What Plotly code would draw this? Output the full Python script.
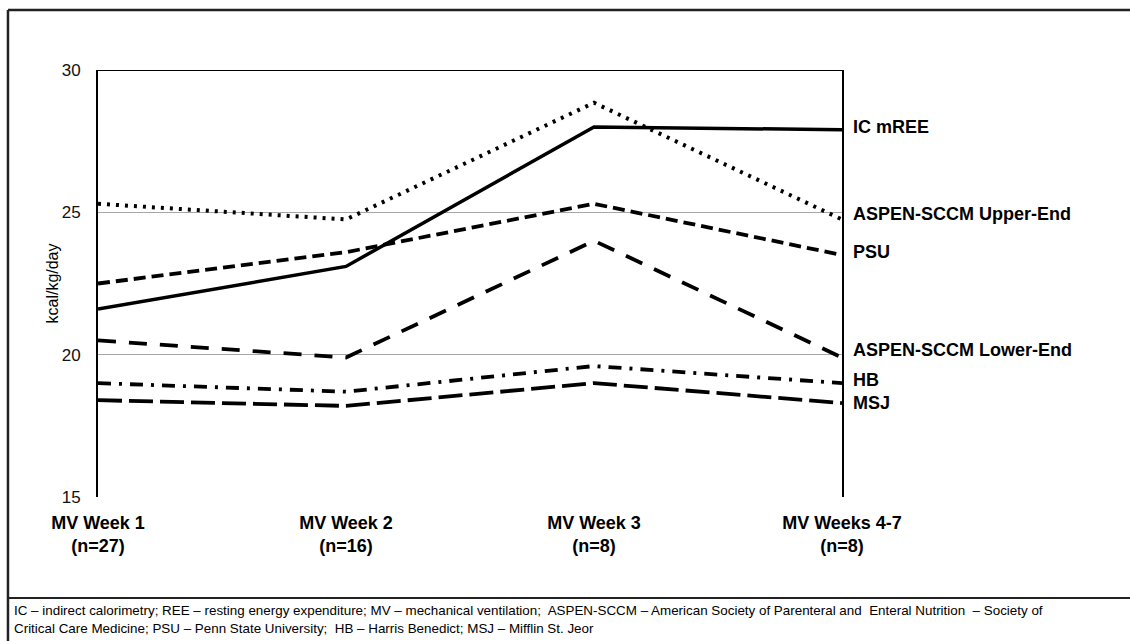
import plotly.graph_objects as go

categories = ["MV Week 1<br>(n=27)", "MV Week 2<br>(n=16)", "MV Week 3<br>(n=8)", "MV Weeks 4-7<br>(n=8)"]
series_names = ["IC mREE", "ASPEN-SCCM Upper-End", "PSU", "ASPEN-SCCM Lower-End", "HB", "MSJ"]
ic_mree = [21.6, 23.1, 28.0, 27.9]
aspen_upper = [25.3, 24.75, 28.85, 24.75]
psu = [22.5, 23.6, 25.3, 23.5]
aspen_lower = [20.5, 19.9, 24.0, 19.9]
hb = [19.0, 18.7, 19.6, 19.0]
msj = [18.4, 18.2, 19.0, 18.3]
label_offsets = [0.1, 0.2, 0.1, 0.25, 0.1, 0.0]
y_ticks = [15, 20, 25, 30]
footnote_1 = ("IC – indirect calorimetry; REE – resting energy expenditure; MV – mechanical ventilation;  "
              "ASPEN-SCCM – American Society of Parenteral and  Enteral Nutrition  – Society of")
footnote_2 = "Critical Care Medicine; PSU – Penn State University;  HB – Harris Benedict; MSJ – Mifflin St. Jeor"

all_series = [ic_mree, aspen_upper, psu, aspen_lower, hb, msj]
styles = [
    dict(width=3.5, dash="solid"),
    dict(width=4, dash="3px,6px"),
    dict(width=3.8, dash="12px,6px"),
    dict(width=3.8, dash="18px,13px"),
    dict(width=3.8, dash="13px,8px,3px,8px"),
    dict(width=3.8, dash="24px,7px"),
]

xpos = list(range(len(categories)))
fig = go.Figure()
for name, vals, st in zip(series_names, all_series, styles):
    fig.add_trace(go.Scatter(x=xpos, y=vals, mode="lines", name=name,
                             line=dict(color="black", width=st["width"], dash=st["dash"]),
                             showlegend=False))

font = "Liberation Sans, Arial, sans-serif"
annotations = []
for name, vals, off in zip(series_names, all_series, label_offsets):
    annotations.append(dict(x=1, xref="paper", y=vals[-1] + off, yref="y", text="<b>%s</b>" % name,
                            xanchor="left", yanchor="middle", xshift=9, showarrow=False,
                            font=dict(family=font, size=18, color="black")))
annotations.append(dict(x=-0.0618, xref="paper", y=0.5, yref="paper", text="kcal/kg/day", textangle=-90,
                        showarrow=False, font=dict(family=font, size=16, color="black"),
                        xanchor="center", yanchor="middle"))
annotations.append(dict(x=-0.1155, xref="paper", y=-0.265, yref="paper", text=footnote_1, showarrow=False,
                        xanchor="left", yanchor="middle", font=dict(family=font, size=13.4, color="black")))
annotations.append(dict(x=-0.1155, xref="paper", y=-0.307, yref="paper", text=footnote_2, showarrow=False,
                        xanchor="left", yanchor="middle", font=dict(family=font, size=13.4, color="black")))

shapes = [
    dict(type="line", xref="paper", yref="y", x0=0, x1=1, y0=30, y1=30, line=dict(color="black", width=2)),
    dict(type="line", xref="paper", yref="paper", x0=-0.121, x1=1.4, y0=1.1405, y1=1.1405,
         line=dict(color="#222", width=2.5)),
    dict(type="line", xref="paper", yref="paper", x0=-0.121, x1=-0.121, y0=1.1405, y1=-0.4,
         line=dict(color="#222", width=2.5)),
    dict(type="line", xref="paper", yref="paper", x0=-0.121, x1=1.4, y0=-0.2365, y1=-0.2365,
         line=dict(color="#222", width=2)),
]

fig.update_layout(
    width=1130, height=641,
    margin=dict(l=98, r=288, t=70, b=144, autoexpand=False),
    plot_bgcolor="white", paper_bgcolor="white",
    font=dict(family=font, color="black"),
    xaxis=dict(range=[0, 3], tickvals=xpos, ticktext=["<b>%s</b>" % c for c in categories],
               showgrid=False, zeroline=False, showline=False, ticks="", ticklabelstandoff=13,
               tickfont=dict(family=font, size=18, color="black")),
    yaxis=dict(range=[15, 30], tickvals=y_ticks, showgrid=True, gridcolor="#a6a6a6", gridwidth=1,
               zeroline=False, showline=True, linecolor="black", linewidth=2, mirror=True,
               ticks="", ticklabelstandoff=12, tickfont=dict(family=font, size=17, color="#111")),
    annotations=annotations, shapes=shapes,
)
fig.write_html("out.html", config={"displayModeBar": False},
               post_script="document.body.style.margin='0';document.body.style.overflow='hidden';")
